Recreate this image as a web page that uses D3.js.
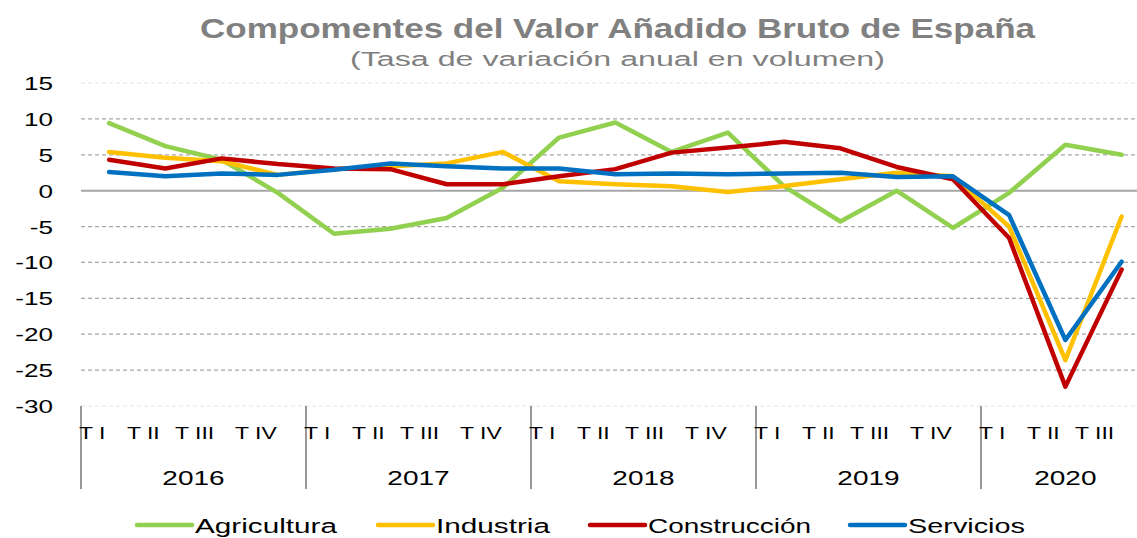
<!DOCTYPE html>
<html>
<head>
<meta charset="utf-8">
<script src="https://cdn.jsdelivr.net/npm/d3@7"></script>
<style>
	body { margin: 0; background: #fff; }
	text { font-family: 'Liberation Sans', Arial, sans-serif; }
</style>
</head>
<body>
<div id="chart"></div>
<script>
// Data
const years = ['2016', '2017', '2018', '2019', '2020'];
const quarterNames = ['T I', 'T II', 'T III', 'T IV'];
const quartersPerYear = [4, 4, 4, 4, 3];

const agricultura = [9.4, 6.2, 4.3, -0.3, -6.0, -5.3, -3.8, 0.4, 7.4, 9.5, 5.4, 8.1, 0.6, -4.3, 0.0, -5.2, -0.3, 6.4, 5.0];
const industria = [5.4, 4.6, 4.1, 2.2, 3.0, 3.4, 3.8, 5.4, 1.3, 0.9, 0.6, -0.2, 0.65, 1.6, 2.5, 2.0, -5.0, -23.6, -3.6];
const construccion = [4.3, 3.1, 4.5, 3.7, 3.1, 3.0, 0.9, 0.9, 2.0, 3.0, 5.3, 6.0, 6.8, 5.9, 3.3, 1.6, -6.6, -27.3, -11.0];
const servicios = [2.6, 2.0, 2.4, 2.2, 2.9, 3.8, 3.4, 3.1, 3.1, 2.3, 2.4, 2.3, 2.4, 2.5, 1.9, 2.0, -3.4, -20.8, -9.9];

const seriesNames = ['Agricultura', 'Industria', 'Construcción', 'Servicios'];
const seriesColors = ['#92d050', '#ffc000', '#c00000', '#0070c0'];
const yTicks = [15, 10, 5, 0, -5, -10, -15, -20, -25, -30];

const series = [agricultura, industria, construccion, servicios];

// Build the quarter list
const quarters = [];
years.forEach((y, yi) => {
	for (let q = 0; q < quartersPerYear[yi]; q++) {
		quarters.push({ key: y + '-' + q, year: y, label: quarterNames[q] });
	}
});

const width = 1137;
const height = 538;
const plotLeft = 81;
const step = 56.25;
const plotRight = plotLeft + step * quarters.length;
const plotTop = 83;
const plotBottom = 406;

const svg = d3.select('#chart')
	.append('svg')
	.attr('width', width)
	.attr('height', height)
	.attr('viewBox', [0, 0, width, height]);

const x = d3.scaleBand()
	.domain(quarters.map((d) => d.key))
	.range([plotLeft, plotRight])
	.padding(0);

const y = d3.scaleLinear()
	.domain([-30, 15])
	.range([plotBottom, plotTop]);

// Title
svg.append('text')
	.attr('x', 200)
	.attr('y', 38)
	.attr('textLength', 835)
	.attr('lengthAdjust', 'spacingAndGlyphs')
	.style('font-size', '28px')
	.style('font-weight', 'bold')
	.style('fill', '#808080')
	.text('Compomentes del Valor Añadido Bruto de España');

svg.append('text')
	.attr('x', 350)
	.attr('y', 66)
	.attr('textLength', 535)
	.attr('lengthAdjust', 'spacingAndGlyphs')
	.style('font-size', '20px')
	.style('fill', '#808080')
	.text('(Tasa de variación  anual en volumen)');

// Grid lines
const grid = svg.append('g');
grid.selectAll('line')
	.data(yTicks)
	.enter()
	.append('line')
	.attr('x1', plotLeft)
	.attr('x2', width)
	.attr('y1', (d) => y(d))
	.attr('y2', (d) => y(d))
	.attr('stroke', (d) => (d == 0 ? '#a6a6a6' : (d == 15 || d == -30) ? '#e3e3e3' : '#a6a6a6'))
	.attr('stroke-width', (d) => (d == 0 ? 2 : 1.2))
	.attr('stroke-dasharray', (d) => (d == 0 ? null : '4,3'));

// Y tick labels (horizontally stretched like the original)
svg.append('g')
	.selectAll('text')
	.data(yTicks)
	.enter()
	.append('text')
	.attr('transform', (d) => 'translate(' + [53, y(d) + 7] + ') scale(1.45,1)')
	.style('text-anchor', 'end')
	.style('font-size', '18px')
	.style('fill', '#000')
	.text((d) => d);

// Year separators
const yearStarts = [];
let idx = 0;
years.forEach((yr, yi) => {
	yearStarts.push({ year: yr, first: quarters[idx].key, count: quartersPerYear[yi] });
	idx += quartersPerYear[yi];
});

svg.append('g')
	.selectAll('line')
	.data(yearStarts)
	.enter()
	.append('line')
	.attr('x1', (d) => x(d.first))
	.attr('x2', (d) => x(d.first))
	.attr('y1', plotBottom)
	.attr('y2', 489)
	.attr('stroke', '#999')
	.attr('stroke-width', 2);

// Quarter labels
svg.append('g')
	.selectAll('text')
	.data(quarters)
	.enter()
	.append('text')
	.attr('transform', (d) => 'translate(' + [x(d.key) + x.bandwidth() / 2 - 2 - 5 * d.label.length, 439] + ') scale(1.35,1)')
	.style('text-anchor', 'middle')
	.style('font-size', '17px')
	.style('fill', '#000')
	.text((d) => d.label);

// Year labels
svg.append('g')
	.selectAll('text')
	.data(yearStarts)
	.enter()
	.append('text')
	.attr('transform', (d) => 'translate(' + [x(d.first) + (x.bandwidth() * d.count) / 2, 485] + ') scale(1.4,1)')
	.style('text-anchor', 'middle')
	.style('font-size', '20px')
	.style('fill', '#000')
	.text((d) => d.year);

// Lines
const line = d3.line()
	.x((d, i) => x(quarters[i].key) + x.bandwidth() / 2)
	.y((d) => y(d));

svg.append('g')
	.selectAll('path')
	.data(series)
	.enter()
	.append('path')
	.attr('d', (d) => line(d))
	.attr('fill', 'none')
	.attr('stroke', (d, i) => seriesColors[i])
	.attr('stroke-width', 4.5)
	.attr('stroke-linejoin', 'round')
	.attr('stroke-linecap', 'round');

// Legend
const legendX = [137, 378, 590, 850];
const legendTextW = [142, 114, 163, 117];
const legend = svg.append('g')
	.selectAll('g')
	.data(seriesNames)
	.enter()
	.append('g')
	.attr('transform', (d, i) => 'translate(' + [legendX[i], 525] + ')');

legend.append('line')
	.attr('x1', 0)
	.attr('x2', 55)
	.attr('stroke', (d, i) => seriesColors[i])
	.attr('stroke-width', 4.5)
	.attr('stroke-linecap', 'round');

legend.append('text')
	.attr('x', 58)
	.attr('y', 8)
	.attr('textLength', (d, i) => legendTextW[i])
	.attr('lengthAdjust', 'spacingAndGlyphs')
	.style('font-size', '20px')
	.style('fill', '#000')
	.text((d) => d);
</script>
</body>
</html>
